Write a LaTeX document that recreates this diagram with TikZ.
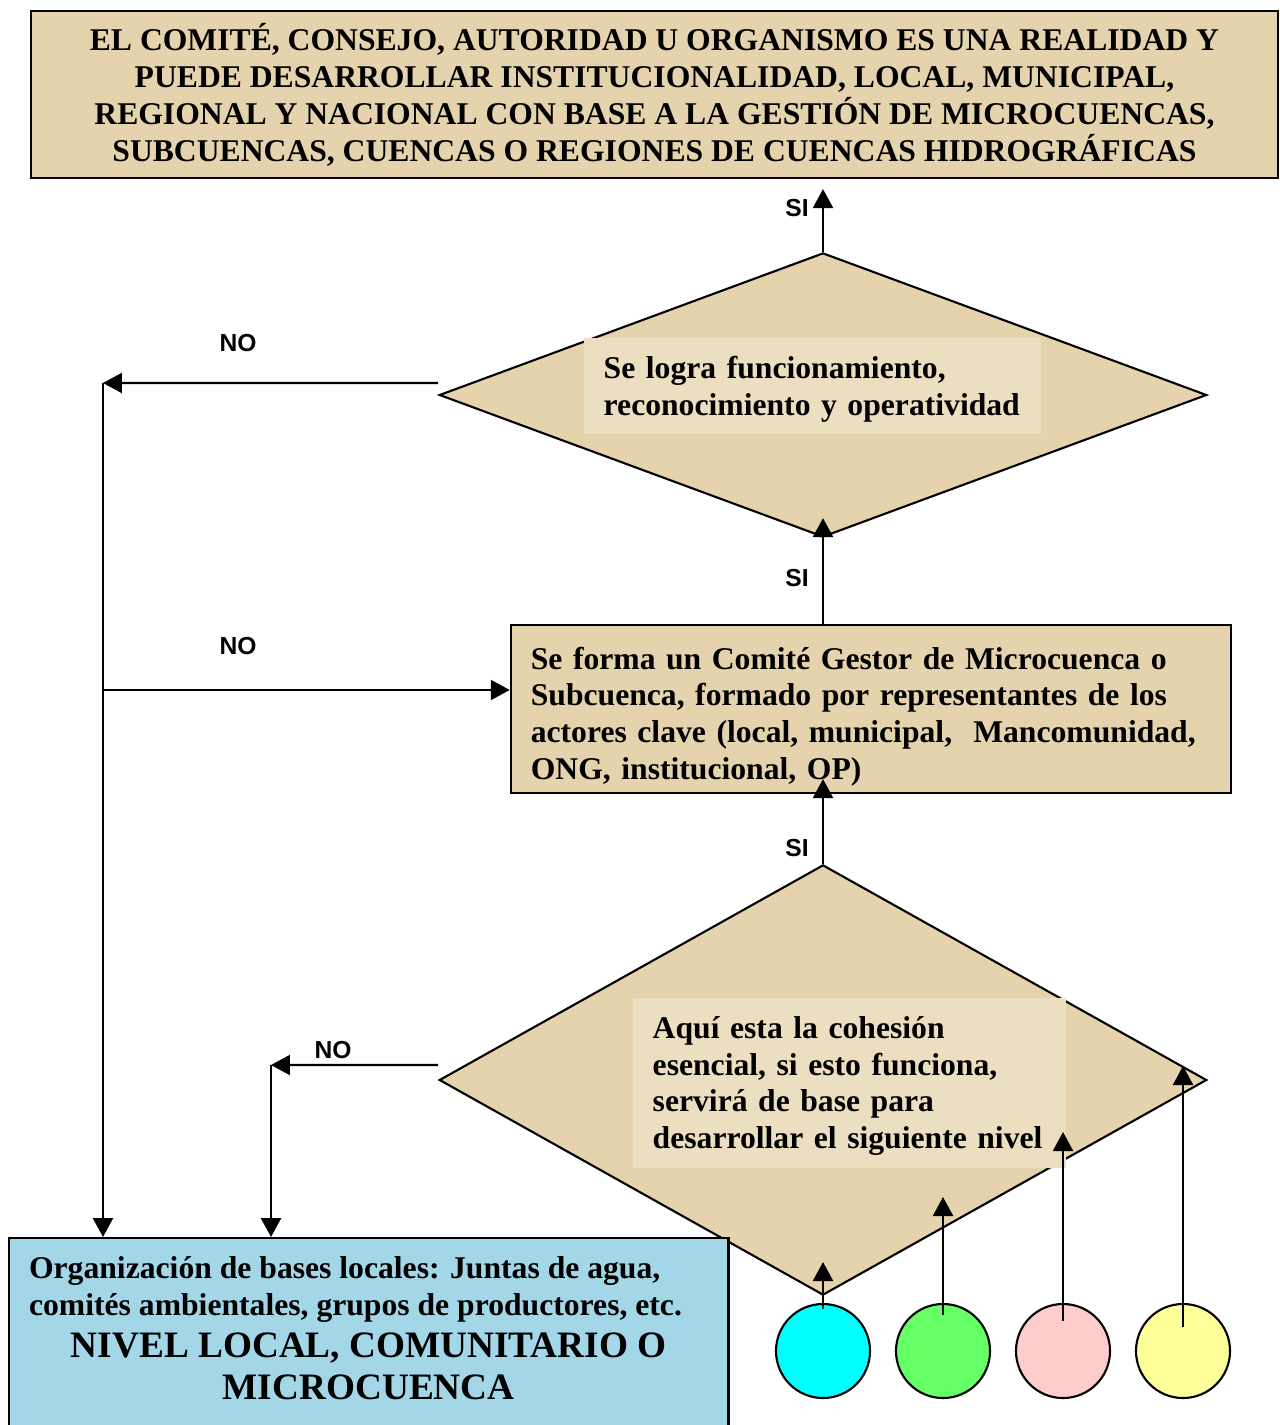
\documentclass[tikz,border=0pt]{standalone}
\usepackage{fontspec}
\usepackage{xcolor}
\usepackage{tikz}
\setmainfont{Liberation Serif}
\newfontfamily\sinofont{Liberation Sans}
\usetikzlibrary{arrows.meta,shapes.geometric}

\definecolor{pergamino}{RGB}{229,211,174}
\definecolor{pergaminoclaro}{RGB}{236,222,192}
\definecolor{agua}{RGB}{163,214,230}
\definecolor{cian}{RGB}{0,255,255}
\definecolor{verde}{RGB}{102,255,102}
\definecolor{rosa}{RGB}{255,204,204}
\definecolor{amarillo}{RGB}{255,255,153}

\begin{document}
\begin{tikzpicture}[x=0.01cm,y=-0.01cm]
				\useasboundingbox (0,0) rectangle (1279,1425);

				\begin{scope}[every node/.style={draw=black,line width=0.6pt,fill=pergamino,
				              font=\fontsize{9}{10.5}\selectfont\bfseries}]
				    \node[minimum width=12.47cm, minimum height=1.67cm, align=center] (T) at (654.5,94.5)
				        {EL COMITÉ, CONSEJO, AUTORIDAD U ORGANISMO ES UNA REALIDAD Y\\
				         PUEDE DESARROLLAR INSTITUCIONALIDAD, LOCAL, MUNICIPAL,\\
				         REGIONAL Y NACIONAL CON BASE A LA GESTIÓN DE MICROCUENCAS,\\
				         SUBCUENCAS, CUENCAS O REGIONES DE CUENCAS HIDROGRÁFICAS};
				    \node[diamond, minimum width=7.67cm, minimum height=2.84cm, inner sep=0pt] (D1) at (823,395) {};
				    \node[minimum width=7.2cm, minimum height=1.68cm, text width=6.8cm, inner xsep=0.2cm, inner ysep=0pt, align=left] (M) at (871,709)
				        {\rule{0pt}{10.7pt}Se forma un Comité Gestor de Microcuenca o\\
				         Subcuenca, formado por representantes de los\\
				         actores clave (local, municipal,~ Mancomunidad,\\
				         ONG, institucional, OP)};
				    \node[diamond, minimum width=7.67cm, minimum height=4.3cm, inner sep=0pt] (D2) at (823,1080) {};
				    \node[fill=agua, anchor=north west, inner xsep=0.2cm, inner ysep=0pt, text height=11.5pt] (L) at (8,1237)
				        {\parbox[t][2.1cm][t]{6.79cm}{\raggedright
				         Organización de bases locales: Juntas de agua,\\
				         comités ambientales, grupos de productores, etc.\par
				         {\centering\fontsize{10.6}{12}\selectfont NIVEL LOCAL, COMUNITARIO O\\ MICROCUENCA\par}}};
				\end{scope}

				% textos de las preguntas
				\begin{scope}[every node/.style={fill=pergaminoclaro,anchor=north west,inner xsep=0.2cm,align=left,
				              font=\fontsize{9}{10.5}\selectfont\bfseries}]
				    \node[text width=4.17cm, minimum height=0.96cm] (P1) at (583,337)
				        {\rule{0pt}{8.1pt}Se logra funcionamiento,\\ reconocimiento y operatividad};
				    \node[text width=3.93cm, minimum height=1.7cm] (P2) at (632,997)
				        {\rule{0pt}{8.1pt}Aquí esta la cohesión\\ esencial, si esto funciona,\\ servirá de base para\\ desarrollar el siguiente nivel};
				\end{scope}

				\begin{scope}[every node/.style={circle,draw=black,line width=0.6pt,minimum size=0.94cm,inner sep=0pt}]
				    \node[fill=cian]     (C1) at (823,1351) {};
				    \node[fill=verde]    (C2) at (943,1351) {};
				    \node[fill=rosa]     (C3) at (1063,1351) {};
				    \node[fill=amarillo] (C4) at (1183,1351) {};
				\end{scope}

				\begin{scope}[every node/.style={font=\sinofont\fontsize{7}{8}\selectfont\bfseries}]
				    \node (SI1) at (797,208) {SI};
				    \node (SI2) at (797,578) {SI};
				    \node (SI3) at (797,848) {SI};
				    \node (NO1) at (238,343) {NO};
				    \node (NO2) at (238,646) {NO};
				    \node (NO3) at (333,1050) {NO};
				\end{scope}

				\coordinate (n1) at (103,383);
				\coordinate (n2) at (103,690);
				\coordinate (n3) at (271,1065);
				\coordinate (t1) at (823,1262);
				\coordinate (t2) at (943,1197);
				\coordinate (t3) at (1063,1132);
				\coordinate (t4) at (1183,1066);

				\begin{scope}[>={Triangle[length=5.4pt,width=5.7pt]},
				              every edge/.style={draw=black,line width=0.6pt}]
				    \path [->] (D1.north) edge[shorten >=0.1cm] (D1.north |- T.south);
				    \path [->] (D1.south |- M.north) edge[shorten >=-0.2cm] (D1.south);
				    \path [->] (D2.north) edge[shorten >=-0.15cm] (D2.north |- M.south);
				    \path [->] ([yshift=0.12cm]D1.west) edge (n1);
				    \path [->] (n1) edge (n1 |- L.north);
				    \path [->] (n2) edge (n2 -| M.west);
				    \path [->] ([yshift=0.15cm]D2.west) edge (n3);
				    \path [->] (n3) edge (n3 |- L.north);
				    \path [->] ([yshift=-0.06cm]C1.north) edge (t1);
				    \path [->] ([yshift=-0.12cm]C2.north) edge (t2);
				    \path [->] ([yshift=-0.18cm]C3.north) edge (t3);
				    \path [->] ([yshift=-0.24cm]C4.north) edge (t4);
				\end{scope}
				\end{tikzpicture}
\end{document}
